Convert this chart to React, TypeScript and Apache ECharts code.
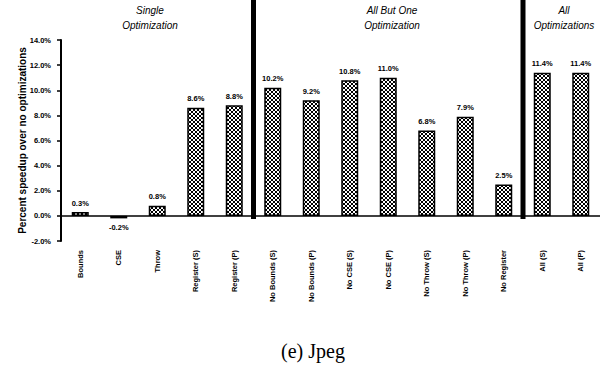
import React, { useEffect, useRef } from "react";
import * as echarts from "echarts";

const categories = [
  "Bounds", "CSE", "Throw", "Register (S)", "Register (P)",
  "No Bounds (S)", "No Bounds (P)", "No CSE (S)", "No CSE (P)",
  "No Throw (S)", "No Throw (P)", "No Register", "All (S)", "All (P)",
];
const speedup = [0.3, -0.2, 0.8, 8.6, 8.8, 10.2, 9.2, 10.8, 11.0, 6.8, 7.9, 2.5, 11.4, 11.4];
const yTicks = { min: -2, max: 14, interval: 2 };
// group boundaries: separator after these category indices
const separatorsAfter = [4, 11];
const groupTitles = [
  { lines: ["Single", "Optimization"], x: 150 },
  { lines: ["All But One", "Optimization"], x: 392 },
  { lines: ["All", "Optimizations"], x: 564 },
];
const caption = "(e) Jpeg";

function makePattern(): HTMLCanvasElement {
  const c = document.createElement("canvas");
  c.width = 4;
  c.height = 4;
  const ctx = c.getContext("2d")!;
  ctx.fillStyle = "#ffffff";
  ctx.fillRect(0, 0, 4, 4);
  ctx.fillStyle = "#000000";
  const pts = [[0, 0], [1, 1], [2, 2], [3, 3], [3, 0], [2, 1], [1, 2], [0, 3]];
  pts.forEach(([x, y]) => ctx.fillRect(x, y, 1, 1));
  return c;
}

export default function App() {
  const ref = useRef<HTMLDivElement>(null);
  useEffect(() => {
    if (!ref.current) return;
    const chart = echarts.init(ref.current, undefined, { renderer: "svg" });
    const pattern = makePattern();
    const font = "'Liberation Sans', Arial, sans-serif";
    chart.setOption({
      animation: false,
      grid: { left: 61, width: 546, top: 40, bottom: 134 },
      xAxis: {
        type: "category",
        data: categories,
        axisLine: { show: false },
        axisTick: { show: false },
        axisLabel: {
          rotate: 90,
          interval: 0,
          margin: 9,
          fontSize: 7.5,
          fontWeight: "bold",
          fontFamily: font,
          color: "#000",
        },
      },
      yAxis: {
        type: "value",
        min: yTicks.min,
        max: yTicks.max,
        interval: yTicks.interval,
        name: "Percent speedup over no optimizations",
        nameLocation: "middle",
        nameGap: 34,
        nameMoveOverlap: false,
        nameTextStyle: { fontSize: 10, fontWeight: "bold", fontFamily: font, color: "#000" },
        axisLine: { show: true, lineStyle: { color: "#000", width: 2 } },
        axisTick: { show: true, length: 4, lineStyle: { color: "#000", width: 1.5 } },
        splitLine: { show: false },
        axisLabel: {
          formatter: (v: number) => v.toFixed(1) + "%",
          fontSize: 7.5,
          fontWeight: "bold",
          fontFamily: font,
          color: "#000",
          margin: 10,
        },
      },
      series: [
        {
          type: "bar",
          barWidth: 17,
          data: speedup.map((v) => ({
            value: v,
            label: { position: v < 0 ? "bottom" : "top" },
          })),
          itemStyle: {
            color: { image: pattern, repeat: "repeat", imageWidth: 4, imageHeight: 4 } as any,
            borderColor: "#000",
            borderWidth: 1.5,
          },
          label: {
            show: true,
            distance: 5,
            formatter: (p: any) => Number(p.value).toFixed(1) + "%",
            fontSize: 7.5,
            fontWeight: "bold",
            fontFamily: font,
            color: "#000",
          },
          markLine: {
            silent: true,
            symbol: "none",
            label: { show: false },
            lineStyle: { color: "#000", width: 1.5, type: "solid" },
            data: [{ yAxis: 0 }],
          },
        },
      ],
    });

    const zeroY = chart.convertToPixel({ yAxisIndex: 0 }, 0) as number;
    const sepLines = separatorsAfter.map((i) => {
      const a = chart.convertToPixel({ xAxisIndex: 0 }, categories[i]) as number;
      const b = chart.convertToPixel({ xAxisIndex: 0 }, categories[i + 1]) as number;
      const x = (a + b) / 2;
      return {
        type: "line",
        shape: { x1: x, y1: 0, x2: x, y2: zeroY + 3 },
        style: { stroke: "#000", lineWidth: 5 },
        silent: true,
      };
    });
    const titles = groupTitles.flatMap((g) =>
      g.lines.map((line, k) => ({
        type: "text",
        x: g.x,
        y: 10 + k * 15,
        style: {
          text: line,
          fill: "#000",
          font: `italic 10px ${font}`,
          textAlign: "center",
          textVerticalAlign: "middle",
        },
      }))
    );
    chart.setOption({
      graphic: [
        ...sepLines,
        ...titles,
        {
          type: "text",
          x: 313,
          y: 351,
          style: {
            text: caption,
            fill: "#000",
            font: "20px 'Liberation Serif', 'DejaVu Serif', serif",
            textAlign: "center",
            textVerticalAlign: "middle",
          },
        },
      ],
    });
    return () => chart.dispose();
  }, []);
  return (
    <div
      ref={ref}
      style={{ position: "fixed", left: 0, top: 0, width: 600, height: 375, background: "#fff" }}
    />
  );
}
